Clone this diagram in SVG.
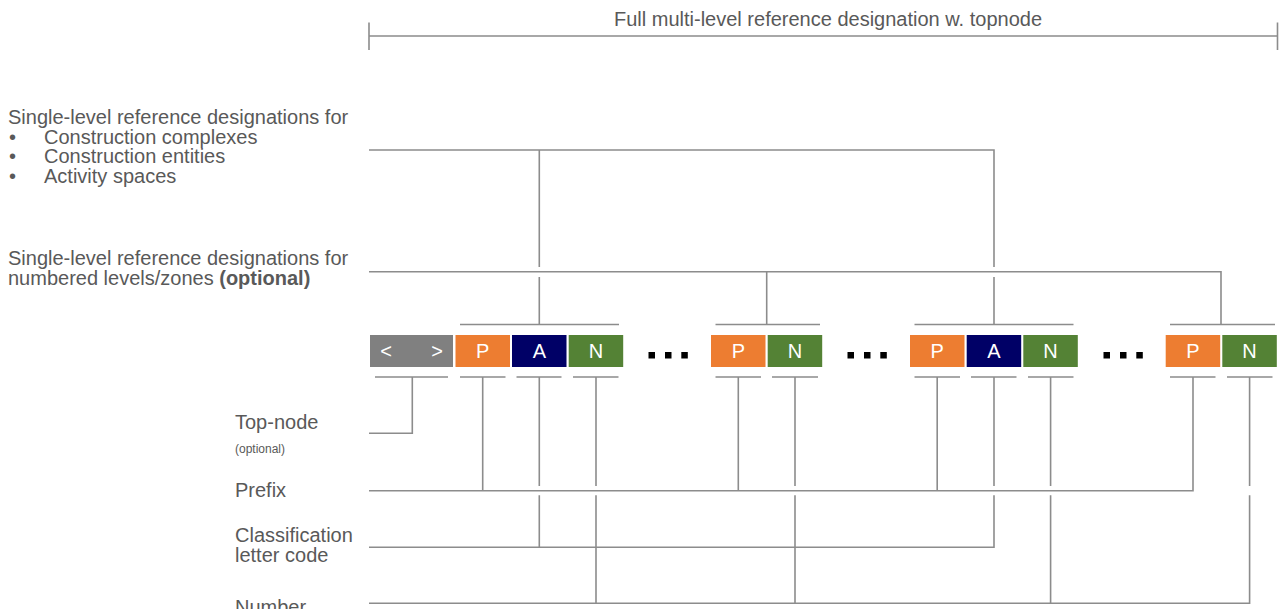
<svg xmlns="http://www.w3.org/2000/svg" width="1279" height="609" viewBox="0 0 1279 609">
  <style>
    .lbl { font-family: "Liberation Sans", Arial, sans-serif; font-size: 20px; fill: #595959; }
    .small { font-size: 12px; }
    .bold { font-weight: bold; }
    .boxtxt { font-family: "Liberation Sans", Arial, sans-serif; font-size: 20px; fill: #ffffff; text-anchor: middle; }
    .ln { fill: none; stroke: #8c8c8c; stroke-width: 1.6; }
    .dot { fill: #000000; }
  </style>

  <rect width="1279" height="609" fill="#ffffff"/>

  <!-- overall span of the full designation -->
  <g id="span-topnode">
    <path class="ln" d="M369,22.5 V50 M369,36 H1277.5 M1277.5,22.5 V50"/>
    <text class="lbl" x="614" y="26">Full multi-level reference designation w. topnode</text>
  </g>

  <!-- left-hand labels -->
  <g id="label-single-level">
    <text class="lbl" x="8" y="124">Single-level reference designations for</text>
    <text class="lbl" x="9" y="143.5">•</text>
    <text class="lbl" x="44" y="143.5">Construction complexes</text>
    <text class="lbl" x="9" y="163">•</text>
    <text class="lbl" x="44" y="163">Construction entities</text>
    <text class="lbl" x="9" y="182.5">•</text>
    <text class="lbl" x="44" y="182.5">Activity spaces</text>
  </g>
  <g id="label-levels-zones">
    <text class="lbl" x="8" y="265">Single-level reference designations for</text>
    <text class="lbl" x="8" y="284.5">numbered levels/zones <tspan class="bold">(optional)</tspan></text>
  </g>
  <g id="label-topnode">
    <text class="lbl" x="235" y="429">Top-node</text>
    <text class="lbl small" x="235" y="453">(optional)</text>
  </g>
  <g id="label-prefix">
    <text class="lbl" x="235" y="497">Prefix</text>
  </g>
  <g id="label-classification">
    <text class="lbl" x="235" y="542">Classification</text>
    <text class="lbl" x="235" y="562">letter code</text>
  </g>
  <g id="label-number">
    <text class="lbl" x="235" y="614">Number</text>
  </g>

  <!-- designation blocks -->
  <g id="block-topnode">
    <rect x="370" y="335" width="83" height="32" fill="#808080"/>
    <text class="boxtxt" x="386" y="358">&lt;</text>
    <text class="boxtxt" x="437" y="358">&gt;</text>
  </g>
  <g id="block-1">
    <rect x="455.5" y="335" width="54.5" height="32" fill="#ed7d31"/>
    <text class="boxtxt" x="482.7" y="358">P</text>
    <rect x="512" y="335" width="54.5" height="32" fill="#000066"/>
    <text class="boxtxt" x="539.3" y="358">A</text>
    <rect x="568.7" y="335" width="54.5" height="32" fill="#548235"/>
    <text class="boxtxt" x="596" y="358">N</text>
  </g>
  <g id="ellipsis-1">
    <rect class="dot" x="648.5" y="352" width="6.5" height="6.5"/>
    <rect class="dot" x="665" y="352" width="6.5" height="6.5"/>
    <rect class="dot" x="681.3" y="352" width="6.5" height="6.5"/>
  </g>
  <g id="block-2">
    <rect x="711" y="335" width="54.5" height="32" fill="#ed7d31"/>
    <text class="boxtxt" x="738.3" y="358">P</text>
    <rect x="767.7" y="335" width="54.5" height="32" fill="#548235"/>
    <text class="boxtxt" x="795" y="358">N</text>
  </g>
  <g id="ellipsis-2">
    <rect class="dot" x="847.5" y="352" width="6.5" height="6.5"/>
    <rect class="dot" x="864" y="352" width="6.5" height="6.5"/>
    <rect class="dot" x="880.3" y="352" width="6.5" height="6.5"/>
  </g>
  <g id="block-3">
    <rect x="910" y="335" width="54.5" height="32" fill="#ed7d31"/>
    <text class="boxtxt" x="937.2" y="358">P</text>
    <rect x="966.7" y="335" width="54.5" height="32" fill="#000066"/>
    <text class="boxtxt" x="994" y="358">A</text>
    <rect x="1023.3" y="335" width="54.5" height="32" fill="#548235"/>
    <text class="boxtxt" x="1050.6" y="358">N</text>
  </g>
  <g id="ellipsis-3">
    <rect class="dot" x="1103.5" y="352" width="6.5" height="6.5"/>
    <rect class="dot" x="1120" y="352" width="6.5" height="6.5"/>
    <rect class="dot" x="1136.3" y="352" width="6.5" height="6.5"/>
  </g>
  <g id="block-4">
    <rect x="1165.7" y="335" width="54.5" height="32" fill="#ed7d31"/>
    <text class="boxtxt" x="1193" y="358">P</text>
    <rect x="1222.3" y="335" width="54.5" height="32" fill="#548235"/>
    <text class="boxtxt" x="1249.6" y="358">N</text>
  </g>

  <!-- connectors -->
  <g id="connectors">
    <!-- construction complexes / entities / activity spaces -->
    <path class="ln" d="M369,150 H994 V267 M994,277 V324.5"/>
    <path class="ln" d="M539.3,150 V267 M539.3,277 V324.5"/>
    <!-- numbered levels / zones -->
    <path class="ln" d="M369,271.7 H1221 V324.5"/>
    <path class="ln" d="M766.7,271.7 V324.5"/>

    <!-- brackets above each block -->
    <path class="ln" d="M460,324.5 H619"/>
    <path class="ln" d="M715.5,324.5 H820"/>
    <path class="ln" d="M914.5,324.5 H1073.5"/>
    <path class="ln" d="M1170,324.5 H1275"/>

    <!-- underlines below each box -->
    <path class="ln" d="M375,377 H448 M460,377 H505.5 M516.5,377 H561.5 M573,377 H618.5
                        M715.5,377 H761 M772,377 H818
                        M914.5,377 H960 M971,377 H1016.5 M1028,377 H1073.5
                        M1170,377 H1215.5 M1227,377 H1272.5"/>

    <!-- top-node -->
    <path class="ln" d="M412.3,377 V433.3 H369"/>

    <!-- prefix -->
    <path class="ln" d="M369,490.8 H1193 V377"/>
    <path class="ln" d="M482.7,377 V490.8 M738.3,377 V490.8 M937.2,377 V490.8"/>

    <!-- classification letter code -->
    <path class="ln" d="M369,547.2 H994 V495.3 M994,486 V377"/>
    <path class="ln" d="M539.3,377 V486 M539.3,495.3 V547.2"/>

    <!-- number -->
    <path class="ln" d="M369,603.3 H1249.6 V495.3 M1249.6,486 V377"/>
    <path class="ln" d="M596,377 V486 M596,495.3 V603.3"/>
    <path class="ln" d="M795,377 V486 M795,495.3 V603.3"/>
    <path class="ln" d="M1050.6,377 V486 M1050.6,495.3 V603.3"/>
  </g>
</svg>
